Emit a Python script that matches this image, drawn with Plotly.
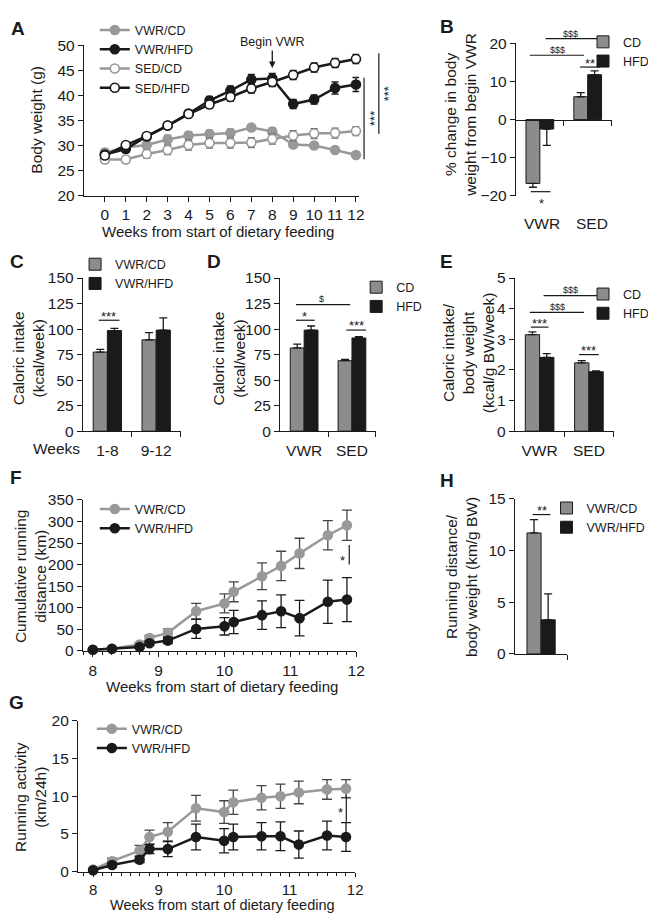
import plotly.graph_objects as go

# ---------------- data ----------------
weeks = list(range(13))
vwr_cd = [28.6, 29.6, 30.1, 31.2, 32.0, 32.3, 32.5, 33.6, 32.8, 30.2, 30.0, 29.1, 28.1]
vwr_cd_err = [0.8, 0.8, 0.8, 0.9, 0.8, 0.8, 0.8, 0.6, 0.7, 0.6, 0.5, 0.5, 0.4]
vwr_hfd = [28.2, 29.3, 31.8, 34.0, 36.4, 39.0, 41.0, 43.2, 43.4, 38.3, 39.2, 41.5, 42.2]
vwr_hfd_err = [0.6, 0.7, 0.7, 0.6, 0.7, 0.8, 0.9, 1.0, 1.0, 0.9, 0.9, 1.2, 1.4]
sed_cd = [27.2, 27.2, 28.3, 29.1, 30.1, 30.5, 30.5, 30.6, 31.3, 32.0, 32.4, 32.5, 32.9]
sed_cd_err = [0.7, 0.7, 0.8, 0.9, 1.0, 1.0, 1.0, 1.0, 1.0, 1.0, 1.0, 1.0, 0.9]
sed_hfd = [28.0, 30.1, 31.9, 34.0, 36.3, 38.2, 39.7, 41.4, 42.7, 44.1, 45.6, 46.5, 47.3]
sed_hfd_err = [0.5, 0.6, 0.6, 0.6, 0.6, 0.7, 0.8, 0.9, 0.9, 0.9, 0.9, 0.9, 0.9]

group_pos = [0, 1]
b_groups = ["VWR", "SED"]
b_cd = [-16.8, 6.0]
b_cd_err = [1.0, 1.1]
b_hfd = [-2.5, 11.8]
b_hfd_err = [4.3, 1.0]

c_groups = ["1-8", "9-12"]
c_cd = [77.5, 89.5]
c_cd_err = [2.7, 7.0]
c_hfd = [98.5, 99.0]
c_hfd_err = [2.2, 12.0]

d_groups = ["VWR", "SED"]
d_cd = [81.5, 69.0]
d_cd_err = [3.8, 1.3]
d_hfd = [99.0, 91.3]
d_hfd_err = [4.0, 1.3]

e_groups = ["VWR", "SED"]
e_cd = [3.15, 2.23]
e_cd_err = [0.09, 0.07]
e_hfd = [2.41, 1.94]
e_hfd_err = [0.12, 0.03]

run_weeks = [8.0, 8.29, 8.71, 8.86, 9.14, 9.57, 10.0, 10.14, 10.57, 10.86, 11.14, 11.57, 11.86]
f_cd = [3, 5, 15, 30, 42, 92, 110, 137, 173, 197, 226, 268, 291]
f_cd_err = [1, 2, 4, 6, 9, 18, 22, 23, 31, 34, 35, 34, 35]
f_hfd = [3, 5, 9, 18, 24, 51, 57, 67, 83, 92, 76, 114, 119]
f_hfd_err = [1, 2, 3, 5, 7, 22, 20, 27, 33, 38, 41, 50, 51]

g_cd = [0.3, 1.4, 2.8, 4.6, 5.3, 8.4, 7.9, 9.2, 9.8, 10.0, 10.5, 10.9, 11.0]
g_cd_err = [0.1, 0.4, 0.7, 0.9, 1.2, 1.7, 1.5, 1.6, 1.6, 1.6, 1.5, 1.3, 1.2]
g_hfd = [0.2, 0.9, 1.6, 3.0, 3.0, 4.6, 4.1, 4.6, 4.7, 4.7, 3.6, 4.8, 4.6]
g_hfd_err = [0.1, 0.3, 0.4, 0.6, 1.0, 1.7, 1.6, 1.7, 1.8, 1.9, 1.8, 1.9, 1.9]

h_pos = [0]
h_cd = [11.7]
h_cd_err = [1.3]
h_hfd = [3.3]
h_hfd_err = [2.5]

# ---------------- style ----------------
W, H = 656, 913
def fx(p):
    return p / W
def fy(p):
    return 1 - p / H

FONT = "Arial, 'Liberation Sans', Helvetica, sans-serif"
INK = "#1a1a1a"
GRAY_BAR = "#8c8c8c"
GRAY_LINE = "#999999"
TICK = 15.5
TITLE = 15
STAR = 13

fig = go.Figure()

def line_trace(x, y, err, name, color, filled, xa, ya, legend, errcolor, capw=3.5):
    return go.Scatter(
        x=x, y=y, name=name, mode="lines+markers", xaxis=xa, yaxis=ya, legend=legend,
        line=dict(color=color, width=2.5),
        marker=dict(size=9, color=color if filled else "white", line=dict(color=color, width=1.6)),
        error_y=dict(type="data", array=err, color=errcolor, thickness=1.3, width=capw),
        cliponaxis=False,
    )

def bar_trace(x, y, err, name, color, offset, width, xa, ya, legend):
    plus = [e if v >= 0 else 0 for v, e in zip(y, err)]
    minus = [e if v < 0 else 0 for v, e in zip(y, err)]
    return go.Bar(
        x=x, y=y, name=name, width=width, offset=offset, xaxis=xa, yaxis=ya, legend=legend,
        marker=dict(color=color, line=dict(color=INK, width=1)),
        error_y=dict(type="data", symmetric=False, array=plus, arrayminus=minus,
                     color=INK, thickness=1.3, width=4),
    )

# Panel A
fig.add_trace(line_trace(weeks, vwr_cd, vwr_cd_err, "VWR/CD", GRAY_LINE, True, "x", "y", "legend", "#666666"))
fig.add_trace(line_trace(weeks, vwr_hfd, vwr_hfd_err, "VWR/HFD", INK, True, "x", "y", "legend", INK))
fig.add_trace(line_trace(weeks, sed_cd, sed_cd_err, "SED/CD", GRAY_LINE, False, "x", "y", "legend", "#666666"))
fig.add_trace(line_trace(weeks, sed_hfd, sed_hfd_err, "SED/HFD", INK, False, "x", "y", "legend", INK))

# Panel B
fig.add_trace(bar_trace(group_pos, b_cd, b_cd_err, "CD", GRAY_BAR, -0.29, 0.29, "x2", "y2", "legend2"))
fig.add_trace(bar_trace(group_pos, b_hfd, b_hfd_err, "HFD", INK, 0, 0.29, "x2", "y2", "legend2"))
# Panel C
fig.add_trace(bar_trace(group_pos, c_cd, c_cd_err, "VWR/CD", GRAY_BAR, -0.29, 0.29, "x3", "y3", "legend3"))
fig.add_trace(bar_trace(group_pos, c_hfd, c_hfd_err, "VWR/HFD", INK, 0, 0.29, "x3", "y3", "legend3"))
# Panel D
fig.add_trace(bar_trace(group_pos, d_cd, d_cd_err, "CD", GRAY_BAR, -0.29, 0.29, "x4", "y4", "legend4"))
fig.add_trace(bar_trace(group_pos, d_hfd, d_hfd_err, "HFD", INK, 0, 0.29, "x4", "y4", "legend4"))
# Panel E
fig.add_trace(bar_trace(group_pos, e_cd, e_cd_err, "CD", GRAY_BAR, -0.29, 0.29, "x5", "y5", "legend5"))
fig.add_trace(bar_trace(group_pos, e_hfd, e_hfd_err, "HFD", INK, 0, 0.29, "x5", "y5", "legend5"))
# Panel F
fig.add_trace(line_trace(run_weeks, f_cd, f_cd_err, "VWR/CD", GRAY_LINE, True, "x6", "y6", "legend6", "#444444", 5))
fig.add_trace(line_trace(run_weeks, f_hfd, f_hfd_err, "VWR/HFD", INK, True, "x6", "y6", "legend6", INK, 5))
# Panel G
fig.add_trace(line_trace(run_weeks, g_cd, g_cd_err, "VWR/CD", GRAY_LINE, True, "x7", "y7", "legend7", "#444444", 5))
fig.add_trace(line_trace(run_weeks, g_hfd, g_hfd_err, "VWR/HFD", INK, True, "x7", "y7", "legend7", INK, 5))
# Panel H
fig.add_trace(bar_trace(h_pos, h_cd, h_cd_err, "VWR/CD", GRAY_BAR, -0.27, 0.27, "x8", "y8", "legend8"))
fig.add_trace(bar_trace(h_pos, h_hfd, h_hfd_err, "VWR/HFD", INK, 0, 0.27, "x8", "y8", "legend8"))

def ax(**kw):
    d = dict(showline=True, linecolor=INK, linewidth=1.3, ticks="outside", ticklen=5,
             tickwidth=1.3, tickcolor=INK, showgrid=False, zeroline=False,
             tickfont=dict(family=FONT, size=TICK, color=INK), fixedrange=True)
    d.update(kw)
    return d

cat_minor = dict(tickmode="array", tickvals=[0.5, 1.5], ticks="outside", ticklen=5,
                 tickwidth=1.3, tickcolor=INK)

layout = dict(
    width=W, height=H, margin=dict(l=0, r=0, t=0, b=0),
    paper_bgcolor="white", plot_bgcolor="white", barmode="overlay",
    font=dict(family=FONT, color=INK),
    # A
    xaxis=ax(domain=[fx(77), fx(356)], range=[-1, 12.15], anchor="y", tickmode="array", tickvals=weeks),
    yaxis=ax(domain=[fy(182), fy(29)], range=[20, 50], dtick=5, anchor="x"),
    # B
    xaxis2=ax(domain=[fx(515), fx(612)], range=[-0.5, 1.5], anchor="free", position=fy(105),
              tickmode="array", tickvals=[0.5, 1.5], showticklabels=False),
    yaxis2=ax(domain=[fy(182), fy(27)], range=[-20, 20], dtick=10, anchor="x2"),
    # C
    xaxis3=ax(domain=[fx(76), fx(175)], range=[-0.5, 1.5], anchor="y3", tickmode="array",
              tickvals=group_pos, ticktext=c_groups, tickcolor="rgba(0,0,0,0)", minor=cat_minor),
    yaxis3=ax(domain=[fy(422), fy(266)], range=[0, 150], dtick=25, anchor="x3"),
    # D
    xaxis4=ax(domain=[fx(276), fx(373)], range=[-0.5, 1.5], anchor="y4", tickmode="array",
              tickvals=group_pos, ticktext=d_groups, tickcolor="rgba(0,0,0,0)", minor=cat_minor),
    yaxis4=ax(domain=[fy(422), fy(266)], range=[0, 150], dtick=25, anchor="x4"),
    # E
    xaxis5=ax(domain=[fx(514), fx(614)], range=[-0.5, 1.5], anchor="y5", tickmode="array",
              tickvals=group_pos, ticktext=e_groups, tickcolor="rgba(0,0,0,0)", minor=cat_minor),
    yaxis5=ax(domain=[fy(422), fy(266)], range=[0, 5], dtick=1, anchor="x5"),
    # F
    xaxis6=ax(domain=[fx(76), fx(353)], range=[7.85, 12.0], anchor="y6", tick0=8, dtick=1, ticklen=5,
              minor=dict(tick0=8, dtick=1 / 7, ticks="outside", ticklen=3, tickwidth=1.2, tickcolor=INK)),
    yaxis6=ax(domain=[fy(646), fy(492)], range=[0, 350], dtick=50, anchor="x6"),
    # G
    xaxis7=ax(domain=[fx(71), fx(352)], range=[7.77, 12.0], anchor="y7", tick0=8, dtick=1, ticklen=4,
              tickfont=dict(family=FONT, size=15, color=INK),
              minor=dict(tick0=8, dtick=1 / 7, ticks="outside", ticklen=3, tickwidth=1.2, tickcolor=INK)),
    yaxis7=ax(domain=[fy(871), fy(717)], range=[0, 20], dtick=5, anchor="x7"),
    # H
    xaxis8=ax(domain=[fx(514), fx(567)], range=[-0.5, 0.5], anchor="y8", tickmode="array",
              tickvals=[0.5], showticklabels=False),
    yaxis8=ax(domain=[fy(649), fy(491)], range=[0, 15], dtick=5, anchor="x8"),
)

def leg(left, top):
    return dict(x=fx(left), y=fy(top), xanchor="left", yanchor="top", bgcolor="rgba(0,0,0,0)",
                borderwidth=0, itemwidth=30, tracegroupgap=0,
                font=dict(family=FONT, size=12.5, color=INK))

layout["legend"] = leg(88, -1.6)
layout["legend2"] = leg(583, 10.4)
layout["legend3"] = leg(68, 237)
layout["legend4"] = leg(353, 260.4)
layout["legend5"] = leg(583, 267.4)
layout["legend6"] = leg(88, 486.4)
layout["legend7"] = leg(85, 710.4)
layout["legend8"] = leg(546, 485.4)

fig.update_layout(**layout)

ann = []
shapes = []

def txt(x, y, s, size=TITLE, angle=0, bold=False, xanchor="center"):
    if bold:
        s = "<b>" + s + "</b>"
    ann.append(dict(x=fx(x), y=fy(y), xref="paper", yref="paper", text=s, showarrow=False,
                    textangle=angle, xanchor=xanchor, yanchor="middle",
                    font=dict(family=FONT, size=size, color=INK)))

def hline(x0, x1, y):
    shapes.append(dict(type="line", xref="paper", yref="paper", x0=fx(x0), x1=fx(x1),
                       y0=fy(y), y1=fy(y), line=dict(color=INK, width=1.2)))

def vline(x, y0, y1):
    shapes.append(dict(type="line", xref="paper", yref="paper", x0=fx(x), x1=fx(x),
                       y0=fy(y0), y1=fy(y1), line=dict(color=INK, width=1.2)))

# panel letters
for letter, (lx, ly) in {"A": (10, 12), "B": (445, 10), "C": (9, 249), "D": (209, 249),
                         "E": (445, 249), "F": (8, 469), "G": (9, 699), "H": (445, 472)}.items():
    txt(lx, ly, letter, size=19, bold=True)

# axis titles
txt(28, 105, "Body weight (g)", angle=-90, size=15.5)
txt(213, 219, "Weeks from start of dietary feeding")
txt(458, 100, "% change in body<br>weight from begin VWR", angle=-90, size=15.5)
txt(21, 348, "Caloric intake<br>(kcal/week)", angle=-90, size=15.5)
txt(224, 348, "Caloric intake<br>(kcal/week)", angle=-90, size=15.5)
txt(467, 342, "Caloric intake/<br>body weight<br>(kcal/g BW/week)", angle=-90, size=15.5)
txt(23, 570, "Cumulative running<br>distance (km)", angle=-90, size=15.5)
txt(217, 682, "Weeks from start of dietary feeding")
txt(22, 795, "Running activity<br>(km/24h)", angle=-90, size=15.5)
txt(217, 905, "Weeks from start of dietary feeding", size=14.5)
txt(460, 571, "Running distance/<br>body weight (km/g BW)", angle=-90, size=15.5)

# category labels
txt(541, 210, b_groups[0], size=TICK)
txt(592, 210, b_groups[1], size=TICK)
txt(75, 440, "Weeks", size=TICK, xanchor="right")

# significance marks
vline(361, 62, 145); txt(371, 103, "***", size=STAR, angle=-90)
vline(376, 37, 119); txt(386, 78, "***", size=STAR, angle=-90)
hline(545, 600, 22); txt(570, 17, "$$$", size=9)
hline(529, 584, 39); txt(557, 34, "$$$", size=9)
hline(580, 600, 51); txt(590, 47, "**", size=STAR)
hline(530, 550, 178); txt(541, 190, "*", size=STAR)
hline(92, 113, 309); txt(102, 305, "***", size=STAR)
hline(292, 347, 293); txt(318, 287, "$", size=9)
hline(292, 311, 309); txt(301, 305, "*", size=STAR)
hline(343, 363, 319); txt(353, 314, "***", size=STAR)
hline(543, 598, 284); txt(570, 278, "$$$", size=9)
hline(529, 584, 301); txt(557, 295, "$$$", size=9)
hline(530, 548, 316); txt(539, 312, "***", size=STAR)
hline(579, 599, 344); txt(589, 340, "***", size=STAR)
vline(346, 538, 558); txt(339, 554, "*", size=STAR)
vline(343, 793, 820); txt(337, 811, "*", size=STAR)
hline(532, 550, 507); txt(541, 503, "**", size=STAR)

# Begin VWR arrow
ann.append(dict(x=8, y=45.5, xref="x", yref="y", text="Begin VWR", showarrow=True,
                ax=0, ay=-26, arrowhead=2, arrowsize=1, arrowwidth=1.3, arrowcolor=INK,
                font=dict(family=FONT, size=12.5, color=INK)))

fig.update_layout(annotations=ann, shapes=shapes)
fig.write_html("out.html")
